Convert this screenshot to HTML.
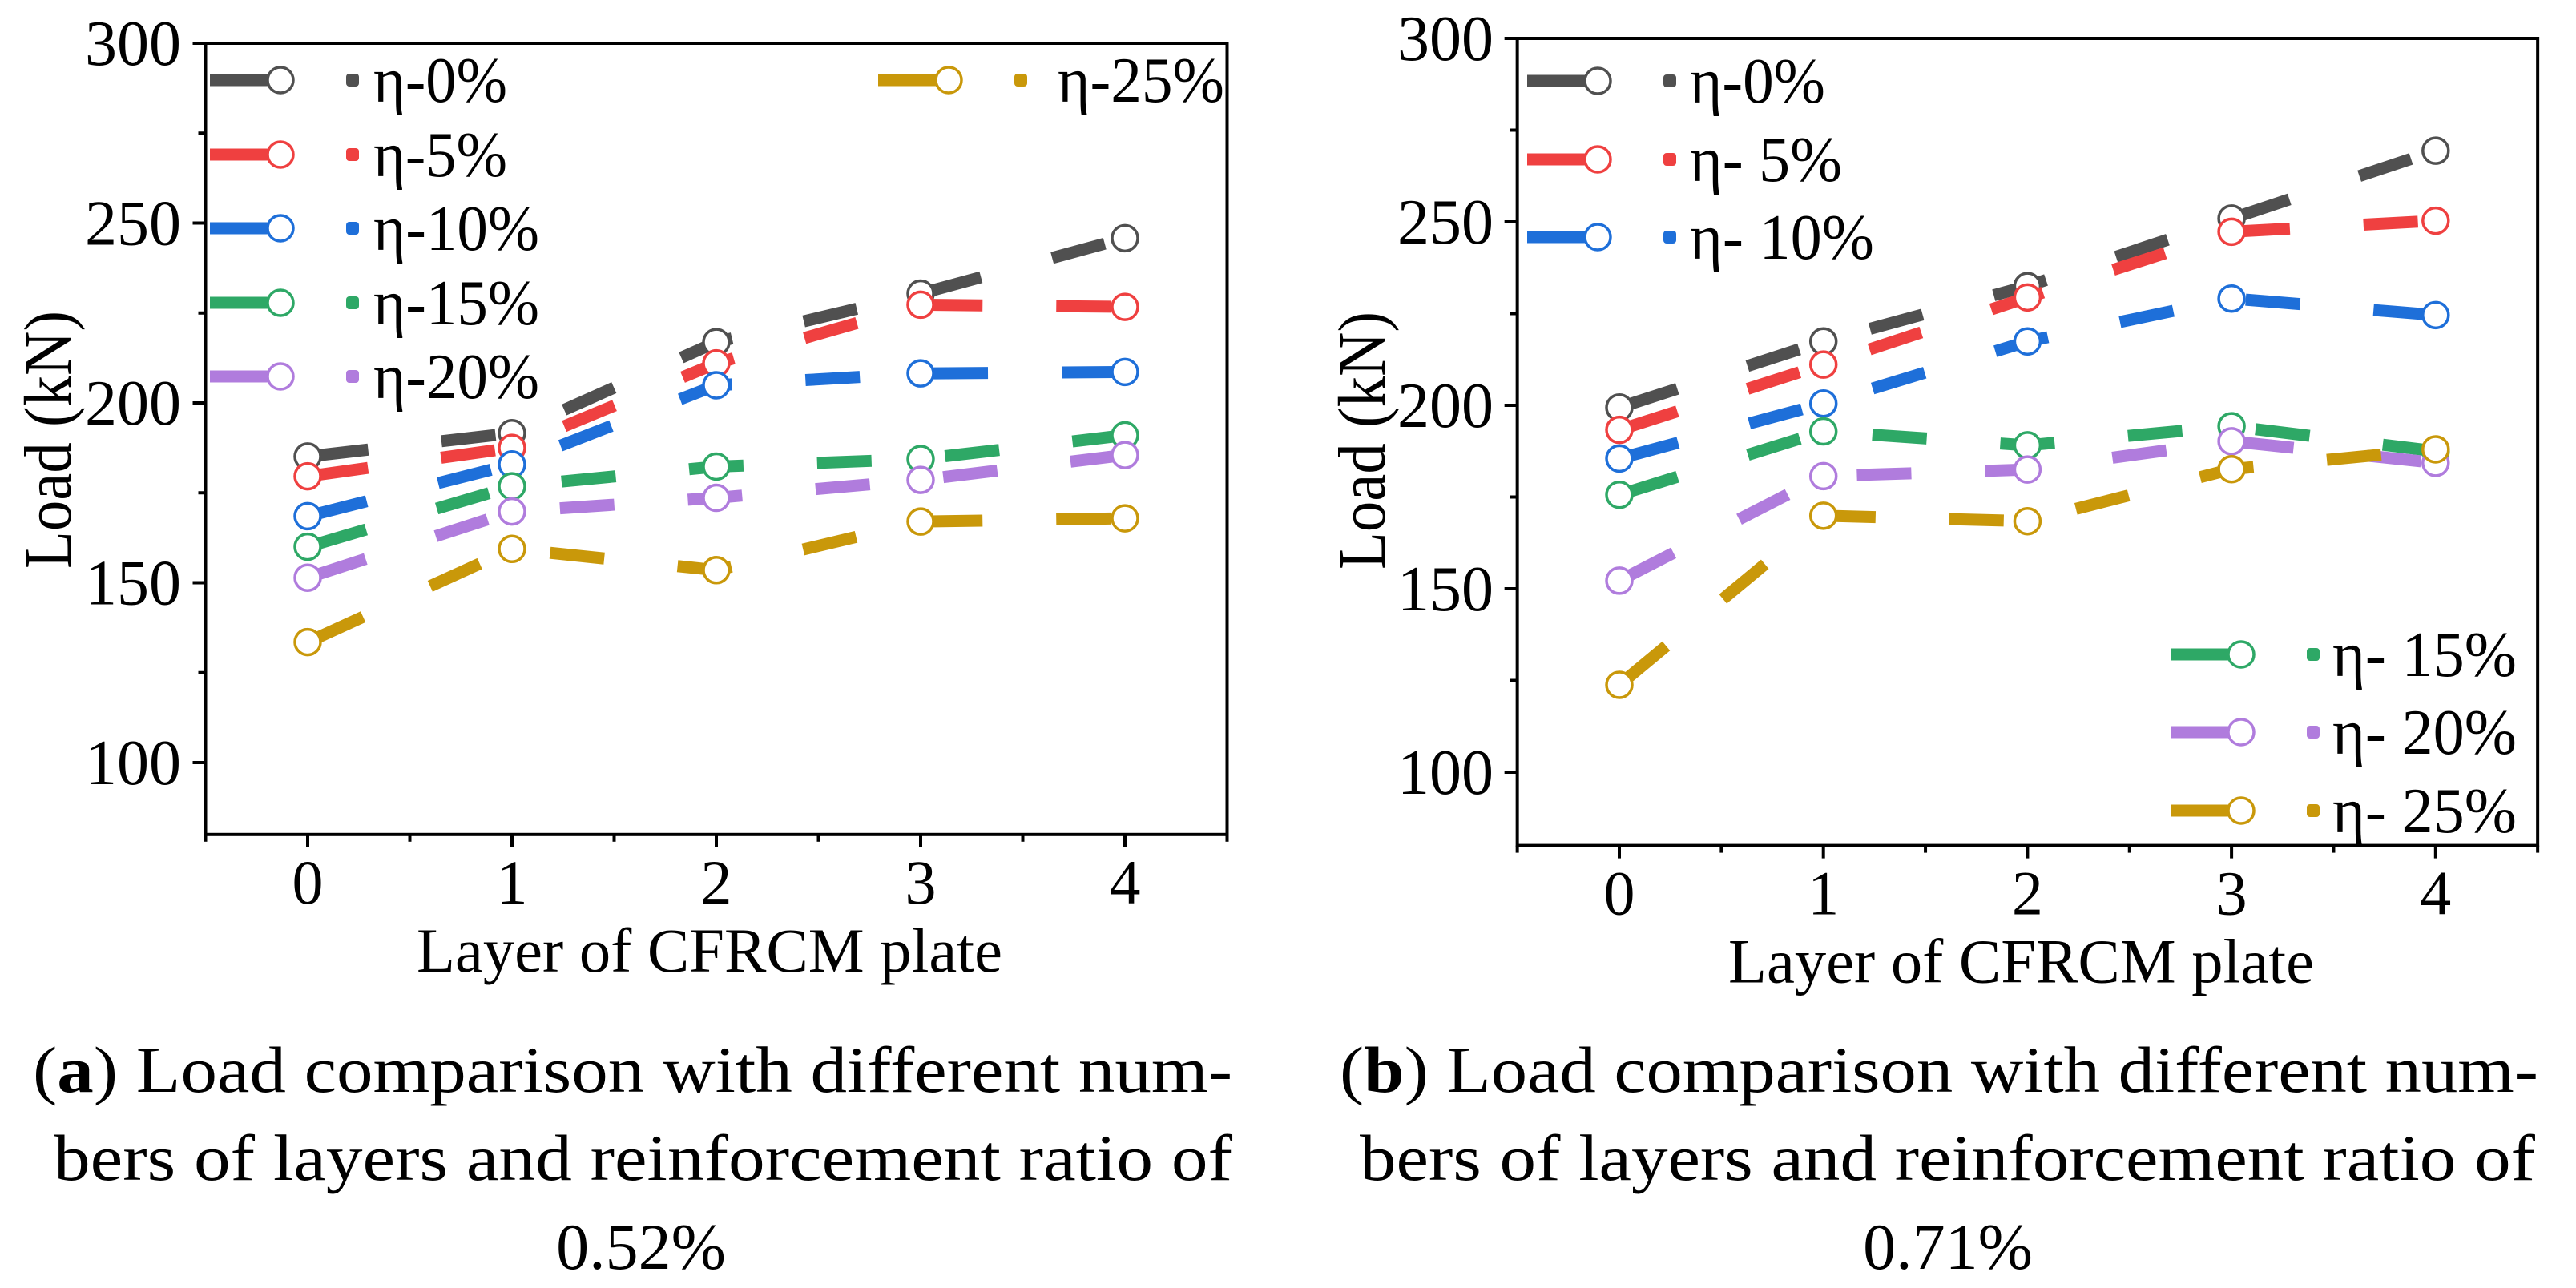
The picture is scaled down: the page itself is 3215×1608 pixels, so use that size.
<!DOCTYPE html>
<html><head><meta charset="utf-8"><style>
html,body{margin:0;padding:0;background:#fff;}
svg{display:block;font-family:"Liberation Serif",serif;}
</style></head><body>
<svg id="fig" width="3215" height="1608" viewBox="0 0 3215 1608" xmlns="http://www.w3.org/2000/svg">
<rect width="3215" height="1608" fill="#fff"/>
<g id="pa"></g>
<g id="pb"></g>
<g font-size="82" fill="#000">
<text x="41" y="1363" textLength="1497" lengthAdjust="spacingAndGlyphs">(<tspan font-weight="bold">a</tspan>) Load comparison with different num-</text>
<text x="67" y="1473" textLength="1471" lengthAdjust="spacingAndGlyphs">bers of layers and reinforcement ratio of</text>
<text x="800" y="1584" text-anchor="middle">0.52%</text>
</g>
<g font-size="82" fill="#000">
<text x="1672" y="1363" textLength="1496" lengthAdjust="spacingAndGlyphs">(<tspan font-weight="bold">b</tspan>) Load comparison with different num-</text>
<text x="1697" y="1473" textLength="1467" lengthAdjust="spacingAndGlyphs">bers of layers and reinforcement ratio of</text>
<text x="2431" y="1584" text-anchor="middle">0.71%</text>
</g>
</svg>
<script>
const layers = [0, 1, 2, 3, 4];
const seriesNames = ["η-0%", "η-5%", "η-10%", "η-15%", "η-20%", "η-25%"];
const seriesNamesB = ["η-0%", "η- 5%", "η- 10%", "η- 15%", "η- 20%", "η- 25%"];
const colors = ["#505050", "#EF4040", "#1E6FD9", "#2EA866", "#B07CDD", "#C9980A"];
const yTicks = [100, 150, 200, 250, 300];
const xTicks = [0, 1, 2, 3, 4];
const a0 = [185.1, 191.6, 216.9, 230.4, 245.8];
const a5 = [179.6, 187.5, 211.0, 227.3, 226.7];
const a10 = [168.5, 182.9, 204.9, 208.2, 208.6];
const a15 = [160.0, 176.8, 182.3, 184.4, 191.0];
const a20 = [151.4, 169.8, 173.6, 178.6, 185.5];
const a25 = [133.5, 159.4, 153.5, 167.0, 167.9];
const b0 = [199.4, 217.4, 232.5, 250.9, 269.4];
const b5 = [193.3, 211.1, 229.4, 247.3, 250.3];
const b10 = [185.5, 200.5, 217.4, 229.1, 224.6];
const b15 = [175.6, 192.9, 189.1, 194.3, 187.5];
const b20 = [152.2, 180.7, 182.5, 190.2, 184.3];
const b25 = [123.8, 169.9, 168.4, 182.6, 188.0];

const NS = "http://www.w3.org/2000/svg";
function mk(parent, tag, attrs, text) {
  const e = document.createElementNS(NS, tag);
  for (const k in attrs) e.setAttribute(k, attrs[k]);
  if (text !== undefined) e.textContent = text;
  parent.appendChild(e);
  return e;
}

function drawChart(g, cfg, data, names) {
  const xs = v => cfg.x0 + v * cfg.ux;
  const ys = v => cfg.yTop + (300 - v) * cfg.uy;
  const L = xs(-0.5), R = xs(4.5), T = ys(300), B = ys(80);
  // series
  data.forEach((vals, si) => {
    const pts = layers.map((l, i) => xs(l) + "," + ys(vals[i])).join(" ");
    const pl = mk(g, "polyline", {points: pts, fill: "none", stroke: colors[si], "stroke-width": 15, "stroke-dasharray": "68 92", "stroke-dashoffset": "-8"});
    
    
    layers.forEach((l, i) => {
      const c = mk(g, "circle", {cx: xs(l), cy: ys(vals[i]), r: 16, fill: "#fff", stroke: colors[si], "stroke-width": 3.5});
      
      
    });
  });
  // axes box
  const box = mk(g, "rect", {x: L, y: T, width: R - L, height: B - T, fill: "none", stroke: "#000", "stroke-width": 4});
  
  
  // y ticks
  for (let v = 100; v <= 300; v += 25) {
    const major = v % 50 === 0;
    const t = mk(g, "line", {x1: L, x2: L - (major ? 16 : 9), y1: ys(v), y2: ys(v), stroke: "#000", "stroke-width": 4});
    
    
  }
  yTicks.forEach(v => {
    const t = mk(g, "text", {x: cfg.ylabX, y: ys(v) + 27, "text-anchor": "end", "font-size": 80}, String(v));
    
    
  });
  // x ticks
  for (let v = -0.5; v <= 4.5; v += 0.5) {
    const major = Number.isInteger(v);
    const t = mk(g, "line", {x1: xs(v), x2: xs(v), y1: B, y2: B + (major ? 16 : 9), stroke: "#000", "stroke-width": 4});
    
    
  }
  xTicks.forEach(v => {
    const t = mk(g, "text", {x: xs(v), y: B + 86, "text-anchor": "middle", "font-size": 78}, String(v));
    
    
  });
  const xt = mk(g, "text", {x: cfg.xtL, y: B + 171, "font-size": 78, textLength: cfg.xtW, lengthAdjust: "spacingAndGlyphs"}, "Layer of CFRCM plate");
  
  
  const yt = mk(g, "text", {x: 0, y: 0, "font-size": 84, "text-anchor": "middle", textLength: 322, lengthAdjust: "spacingAndGlyphs", transform: "translate(" + cfg.ytX + "," + cfg.ytY + ") rotate(-90)"}, "Load (kN)");
  
  
  // legend
  cfg.legend.forEach((le, i) => {
    const si = le.s;
    const lg = mk(g, "g", {});
    
    
    mk(lg, "line", {x1: le.x, x2: le.x + 88, y1: le.y, y2: le.y, stroke: colors[si], "stroke-width": 15});
    mk(lg, "circle", {cx: le.x + 88, cy: le.y, r: 16, fill: "#fff", stroke: colors[si], "stroke-width": 3.5});
    mk(lg, "rect", {x: le.x + 170, y: le.y - 8, width: 16, height: 16, rx: 4, fill: colors[si]});
    mk(lg, "text", {x: le.tx, y: le.y + 27, "font-size": 80, textLength: le.tw, lengthAdjust: "spacingAndGlyphs"}, names[si]);
  });
}

drawChart(document.getElementById("pa"), {
  x0: 384, ux: 255, yTop: 54, uy: 4.49, ylabX: 226,
  xtL: 520, xtW: 731, ytX: 88, ytY: 549,
  legend: [
    {s: 0, x: 262, y: 100, tx: 466, tw: 167},
    {s: 1, x: 262, y: 193, tx: 466, tw: 167},
    {s: 2, x: 262, y: 285, tx: 466, tw: 207},
    {s: 3, x: 262, y: 378, tx: 466, tw: 207},
    {s: 4, x: 262, y: 470, tx: 466, tw: 207},
    {s: 5, x: 1096, y: 100, tx: 1320, tw: 208}
  ]
}, [a0, a5, a10, a15, a20, a25], seriesNames);

drawChart(document.getElementById("pb"), {
  x0: 2021, ux: 254.7, yTop: 48, uy: 4.58, ylabX: 1864,
  xtL: 2157, xtW: 731, ytX: 1728, ytY: 550,
  legend: [
    {s: 0, x: 1906, y: 101, tx: 2109, tw: 169},
    {s: 1, x: 1906, y: 199, tx: 2109, tw: 190},
    {s: 2, x: 1906, y: 296, tx: 2109, tw: 230},
    {s: 3, x: 2709, y: 817, tx: 2911, tw: 230},
    {s: 4, x: 2709, y: 914, tx: 2911, tw: 230},
    {s: 5, x: 2709, y: 1012, tx: 2911, tw: 230}
  ]
}, [b0, b5, b10, b15, b20, b25], seriesNamesB);
</script>
</body></html>
